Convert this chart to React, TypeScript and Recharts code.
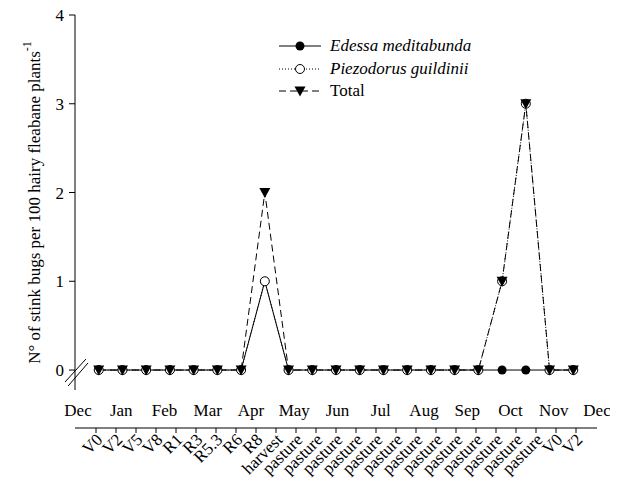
import React from "react";
import { LineChart, Line, XAxis, YAxis, Legend, ReferenceLine, Label } from "recharts";

// sampling dates (index along the season)
const edessa = [0, 0, 0, 0, 0, 0, 0, 1, 0, 0, 0, 0, 0, 0, 0, 0, 0, 0, 0, 0, 0];
const piezodorus = [0, 0, 0, 0, 0, 0, 0, 1, 0, 0, 0, 0, 0, 0, 0, 0, 0, 1, 3, 0, 0];
const total = [0, 0, 0, 0, 0, 0, 0, 2, 0, 0, 0, 0, 0, 0, 0, 0, 0, 1, 3, 0, 0];

const months = ["Dec", "Jan", "Feb", "Mar", "Apr", "May", "Jun", "Jul", "Aug", "Sep", "Oct", "Nov", "Dec"];
const stages = [
  "V0", "V2", "V5", "V8", "R1", "R3", "R5.3", "R6", "R8", "harvest",
  "pasture", "pasture", "pasture", "pasture", "pasture", "pasture", "pasture",
  "pasture", "pasture", "pasture", "pasture", "pasture", "pasture", "V0", "V2",
];
const yTicks = [0, 1, 2, 3, 4];

const data = edessa.map((v, i) => ({ i, edessa: v, piezodorus: piezodorus[i], total: total[i] }));
const idxTicks = data.map((d) => d.i);
const monthTicks = months.map((_, i) => i);
const stageTicks = stages.map((_, i) => i);

const FONT = "'Liberation Serif', 'Times New Roman', serif";
const tickStyle = { fontSize: 17, fill: "#000", fontFamily: FONT };

const TriangleDot = (props: any) => {
  const { cx, cy, index } = props;
  return (
    <path
      key={`tri-${index}`}
      d={`M${cx - 5.5},${cy - 4.5} L${cx + 5.5},${cy - 4.5} L${cx},${cy + 5.5} Z`}
      fill="#000"
    />
  );
};

const StageTick = (props: any) => {
  const { x, y, payload } = props;
  return (
    <g transform={`translate(${x + 4},${y + 2})`}>
      <text transform="rotate(-45)" textAnchor="end" dy="0.3em" fontSize={17} fill="#000" fontFamily={FONT}>
        {stages[payload.value]}
      </text>
    </g>
  );
};

const YTitle = (props: any) => {
  const { viewBox } = props;
  const cx = 26;
  const cy = viewBox.y + viewBox.height / 2;
  return (
    <text
      transform={`translate(${cx},${cy}) rotate(-90)`}
      textAnchor="middle"
      dominantBaseline="central"
      fontSize={17}
      fill="#000"
      fontFamily={FONT}
    >
      N° of stink bugs per 100 hairy fleabane plants
      <tspan dy={-7} fontSize={12}>-1</tspan>
    </text>
  );
};

const legendItems = [
  { name: "Edessa meditabunda", italic: true, dash: undefined, marker: "filled" },
  { name: "Piezodorus guildinii", italic: true, dash: "1 2", marker: "open" },
  { name: "Total", italic: false, dash: "7 4", marker: "tri" },
];

const LegendBox = () => (
  <div style={{ fontFamily: FONT, fontSize: 17, color: "#000" }}>
    {legendItems.map((it) => (
      <div key={it.name} style={{ display: "flex", alignItems: "center", height: 22.5 }}>
        <svg width={42} height={14} style={{ marginRight: 9 }}>
          <line x1={0} y1={7} x2={42} y2={7} stroke="#000" strokeWidth={1} strokeDasharray={it.dash} />
          {it.marker === "filled" && <circle cx={21} cy={7} r={4.5} fill="#000" />}
          {it.marker === "open" && <circle cx={21} cy={7} r={4.5} fill="#fff" stroke="#000" />}
          {it.marker === "tri" && <path d="M15.5,2.5 L26.5,2.5 L21,12.5 Z" fill="#000" />}
        </svg>
        <span style={{ fontStyle: it.italic ? "italic" : "normal" }}>{it.name}</span>
      </div>
    ))}
  </div>
);

export default function App() {
  return (
    <div style={{ fontFamily: FONT }}>
      <LineChart width={602} height={474} data={data} margin={{ top: 7, right: 13, bottom: 0, left: 0 }}>
        <XAxis
          xAxisId="idx"
          dataKey="i"
          type="number"
          domain={[-1, 21]}
          allowDataOverflow
          ticks={idxTicks}
          interval={0}
          tickFormatter={() => ""}
          tickSize={5}
          height={0}
          stroke="#000"
        />
        <XAxis
          xAxisId="month"
          dataKey="i"
          type="number"
          domain={[-0.07, 12]}
          allowDataOverflow
          ticks={monthTicks}
          interval={0}
          tickFormatter={(v: number) => months[v]}
          axisLine={false}
          tickLine={false}
          tickSize={0}
          tickMargin={14}
          height={38}
          tick={tickStyle}
        />
        <XAxis
          xAxisId="stage"
          dataKey="i"
          type="number"
          domain={[-1.05, 25.05]}
          allowDataOverflow
          ticks={stageTicks}
          interval={0}
          tickSize={5}
          tickMargin={2}
          height={54}
          stroke="#000"
          tick={<StageTick />}
        />
        <YAxis
          type="number"
          domain={[-0.225, 4]}
          allowDataOverflow
          ticks={yTicks}
          interval={0}
          width={67}
          tickSize={6}
          tickMargin={5}
          stroke="#000"
          tick={tickStyle}
        >
          <Label content={<YTitle />} />
        </YAxis>
        <ReferenceLine
          xAxisId="idx"
          ifOverflow="visible"
          segment={[{ x: -1.42, y: -0.135 }, { x: -0.54, y: 0.124 }]}
          stroke="#000"
        />
        <ReferenceLine
          xAxisId="idx"
          ifOverflow="visible"
          segment={[{ x: -1.29, y: -0.18 }, { x: -0.45, y: 0.08 }]}
          stroke="#000"
        />
        <Legend
          layout="vertical"
          align="center"
          verticalAlign="middle"
          content={<LegendBox />}
          wrapperStyle={{ top: 27, left: 271, width: "auto" }}
        />
        <Line
          xAxisId="idx"
          dataKey="edessa"
          stroke="#000"
          strokeWidth={1}
          dot={{ r: 4.5, fill: "#000", stroke: "#000", strokeWidth: 0 }}
          isAnimationActive={false}
        />
        <Line
          xAxisId="idx"
          dataKey="piezodorus"
          stroke="#000"
          strokeWidth={1}
          strokeDasharray="1 2"
          dot={{ r: 4.5, fill: "#fff", stroke: "#000", strokeWidth: 1, strokeDasharray: "0" }}
          isAnimationActive={false}
        />
        <Line
          xAxisId="idx"
          dataKey="total"
          stroke="#000"
          strokeWidth={1}
          strokeDasharray="7 4"
          dot={<TriangleDot />}
          isAnimationActive={false}
        />
      </LineChart>
    </div>
  );
}
